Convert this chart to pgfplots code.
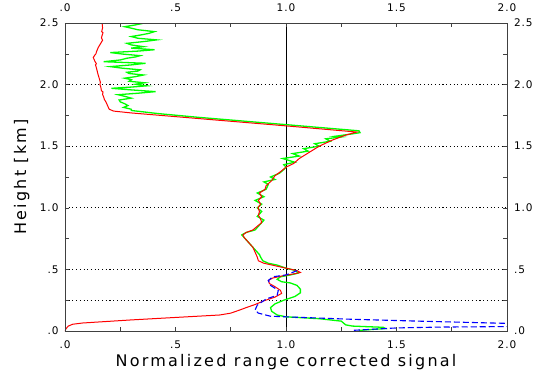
\documentclass[border=0pt]{standalone}
\usepackage{fontspec}
\setmainfont{DejaVu Sans}[LetterSpace=9]
\newfontfamily\lblfont{DejaVu Sans}[LetterSpace=14]
\usepackage{pgfplots}
\pgfplotsset{compat=1.18}
\definecolor{pr}{RGB}{255,0,0}
\definecolor{pg}{RGB}{0,255,0}
\definecolor{pb}{RGB}{0,0,255}

\pgfplotstableread{
x y
0 0
0.005 0.02
0.015 0.04
0.035 0.055
0.08 0.065
0.3 0.09
0.55 0.115
0.70 0.13
0.75 0.145
0.79 0.17
0.82 0.19
0.86 0.215
0.90 0.245
0.95 0.275
0.98 0.305
0.975 0.33
0.95 0.36
0.925 0.385
0.92 0.41
0.94 0.43
0.99 0.45
1.04 0.465
1.065 0.475
1.05 0.49
1.0 0.51
0.95 0.53
0.9 0.55
0.875 0.57
0.87 0.60
0.86 0.64
0.85 0.68
0.83 0.72
0.81 0.76
0.805 0.78
0.82 0.80
0.85 0.82
0.87 0.85
0.89 0.88
0.885 0.91
0.875 0.94
0.88 0.97
0.873 1.0
0.885 1.03
0.875 1.06
0.89 1.09
0.88 1.12
0.905 1.15
0.91 1.18
0.935 1.22
0.95 1.26
0.98 1.30
1.0 1.33
1.035 1.36
1.06 1.40
1.105 1.45
1.15 1.50
1.21 1.55
1.27 1.59
1.32 1.615
1.0 1.665
0.6 1.725
0.3 1.77
0.22 1.785
0.2 1.80
0.195 1.82
0.19 1.84
0.185 1.86
0.178 1.88
0.175 1.90
0.17 1.92
0.172 1.94
0.165 1.95
0.162 1.98
0.158 2.0
0.160 2.02
0.155 2.05
0.150 2.08
0.147 2.10
0.143 2.13
0.138 2.16
0.142 2.17
0.135 2.19
0.128 2.22
0.135 2.24
0.14 2.25
0.143 2.27
0.148 2.29
0.15 2.30
0.16 2.33
0.17 2.36
0.165 2.38
0.168 2.40
0.172 2.42
0.166 2.43
0.17 2.46
0.168 2.50
}\redtab

\pgfplotstableread{
x y
1.05 0.49
1.0 0.455
0.94 0.44
0.92 0.41
0.93 0.37
0.965 0.33
0.96 0.29
0.91 0.26
0.87 0.21
0.86 0.17
0.875 0.145
0.93 0.12
1.0 0.115
1.3 0.095
1.6 0.08
2.0 0.062
2.3 0.05
2.0 0.036
1.7 0.032
1.5 0.025
1.4 0.015
1.3 0.005
}\bluetab

\pgfplotstableread{
x y
1.33 0.005
1.45 0.02
1.44 0.03
1.3 0.04
1.27 0.05
1.25 0.08
1.15 0.10
1.0 0.115
0.96 0.13
0.935 0.16
0.93 0.19
0.95 0.22
0.99 0.25
1.04 0.28
1.065 0.31
1.065 0.34
1.05 0.37
1.02 0.39
0.98 0.40
0.96 0.42
0.975 0.44
1.02 0.455
1.055 0.47
1.045 0.49
1.0 0.51
0.96 0.535
0.92 0.55
0.895 0.57
0.885 0.60
0.88 0.62
0.86 0.66
0.84 0.70
0.82 0.74
0.80 0.78
0.82 0.80
0.86 0.82
0.88 0.86
0.90 0.90
0.87 0.93
0.89 0.97
0.87 1.0
0.89 1.03
0.86 1.06
0.90 1.09
0.87 1.12
0.91 1.15
0.92 1.19
0.90 1.21
0.95 1.23
0.93 1.25
0.97 1.28
0.99 1.31
1.0 1.33
0.99 1.35
1.04 1.37
0.985 1.40
1.06 1.42
1.03 1.44
1.10 1.46
1.08 1.48
1.15 1.50
1.13 1.52
1.20 1.54
1.18 1.56
1.25 1.575
1.22 1.58
1.30 1.60
1.335 1.61
1.33 1.625
1.0 1.675
0.6 1.735
0.42 1.765
0.30 1.79
0.300 1.800
0.265 1.815
0.285 1.830
0.270 1.845
0.250 1.860
0.245 1.875
0.300 1.890
0.270 1.905
0.240 1.918
0.330 1.930
0.410 1.943
0.300 1.957
0.210 1.970
0.300 1.980
0.370 1.990
0.320 2.003
0.360 2.015
0.290 2.027
0.300 2.040
0.270 2.052
0.320 2.065
0.355 2.078
0.290 2.090
0.280 2.100
0.330 2.110
0.340 2.120
0.260 2.133
0.205 2.146
0.300 2.160
0.365 2.173
0.175 2.186
0.250 2.200
0.280 2.214
0.320 2.225
0.340 2.235
0.260 2.248
0.205 2.260
0.330 2.272
0.405 2.283
0.300 2.296
0.355 2.308
0.300 2.322
0.280 2.335
0.360 2.350
0.415 2.363
0.330 2.376
0.300 2.390
0.340 2.402
0.380 2.416
0.405 2.430
0.330 2.445
0.300 2.458
0.270 2.470
0.320 2.485
0.360 2.500
}\greentab

\pgfplotsset{
  base/.style={
    at={(0,0)}, anchor=south west,
    scale only axis, width=442pt, height=308pt,
    xmin=0, xmax=2, ymin=0, ymax=2.5,
    xtick={0,0.5,1,1.5,2}, xticklabels={.0,.5,1.0,1.5,2.0},
    minor xtick={0.25,0.75,1.25,1.75},
    ytick={0,0.5,1,1.5,2,2.5}, yticklabels={.0,.5,1.0,1.5,2.0,2.5},
    minor ytick={0.25,0.75,1.25,1.75,2.25},
    tick align=inside, major tick length=4pt, minor tick length=4pt,
    xtick pos=both, ytick pos=both,
    tick style={black!75, line width=0.6pt},
    axis line style={black!75, line width=0.6pt},
    ticklabel style={font=\fontsize{10.5}{12}\selectfont},
  }
}

\begin{document}
\begin{tikzpicture}
\path[use as bounding box] (-65pt,-45pt) rectangle (473pt,331pt);
\begin{axis}[base,
  xticklabel style={yshift=-6.5pt},
  yticklabel style={xshift=-3pt},
  extra y ticks={0.25,0.5,1,1.5,2},
  extra y tick labels={},
  extra y tick style={grid=major, major tick length=0pt,
    major grid style={black, line width=1.1pt, dash pattern=on 1.1pt off 2.6pt}},
  xlabel={\lblfont\fontsize{16}{18}\selectfont Normalized range corrected signal},
  ylabel={\lblfont\fontsize{16}{18}\selectfont Height [km]},
  xlabel style={at={(axis description cs:0.5,-0.116)}, anchor=base},
  ylabel style={at={(axis description cs:-0.088,0.5)}, anchor=base},
]
\addplot[black, line width=1pt] coordinates {(1,0) (1,2.5)};
\addplot[pg, line width=1.3pt] table[x=x,y=y] {\greentab};
\addplot[pr, line width=1pt] table[x=x,y=y] {\redtab};
\addplot[pb, line width=1.1pt, dash pattern=on 6pt off 3pt] table[x=x,y=y] {\bluetab};
\end{axis}
\begin{axis}[base,
  xticklabel pos=upper, yticklabel pos=right,
  xticklabel style={yshift=7.5pt},
  yticklabel style={xshift=3.5pt},
]
\end{axis}
\end{tikzpicture}
\end{document}
